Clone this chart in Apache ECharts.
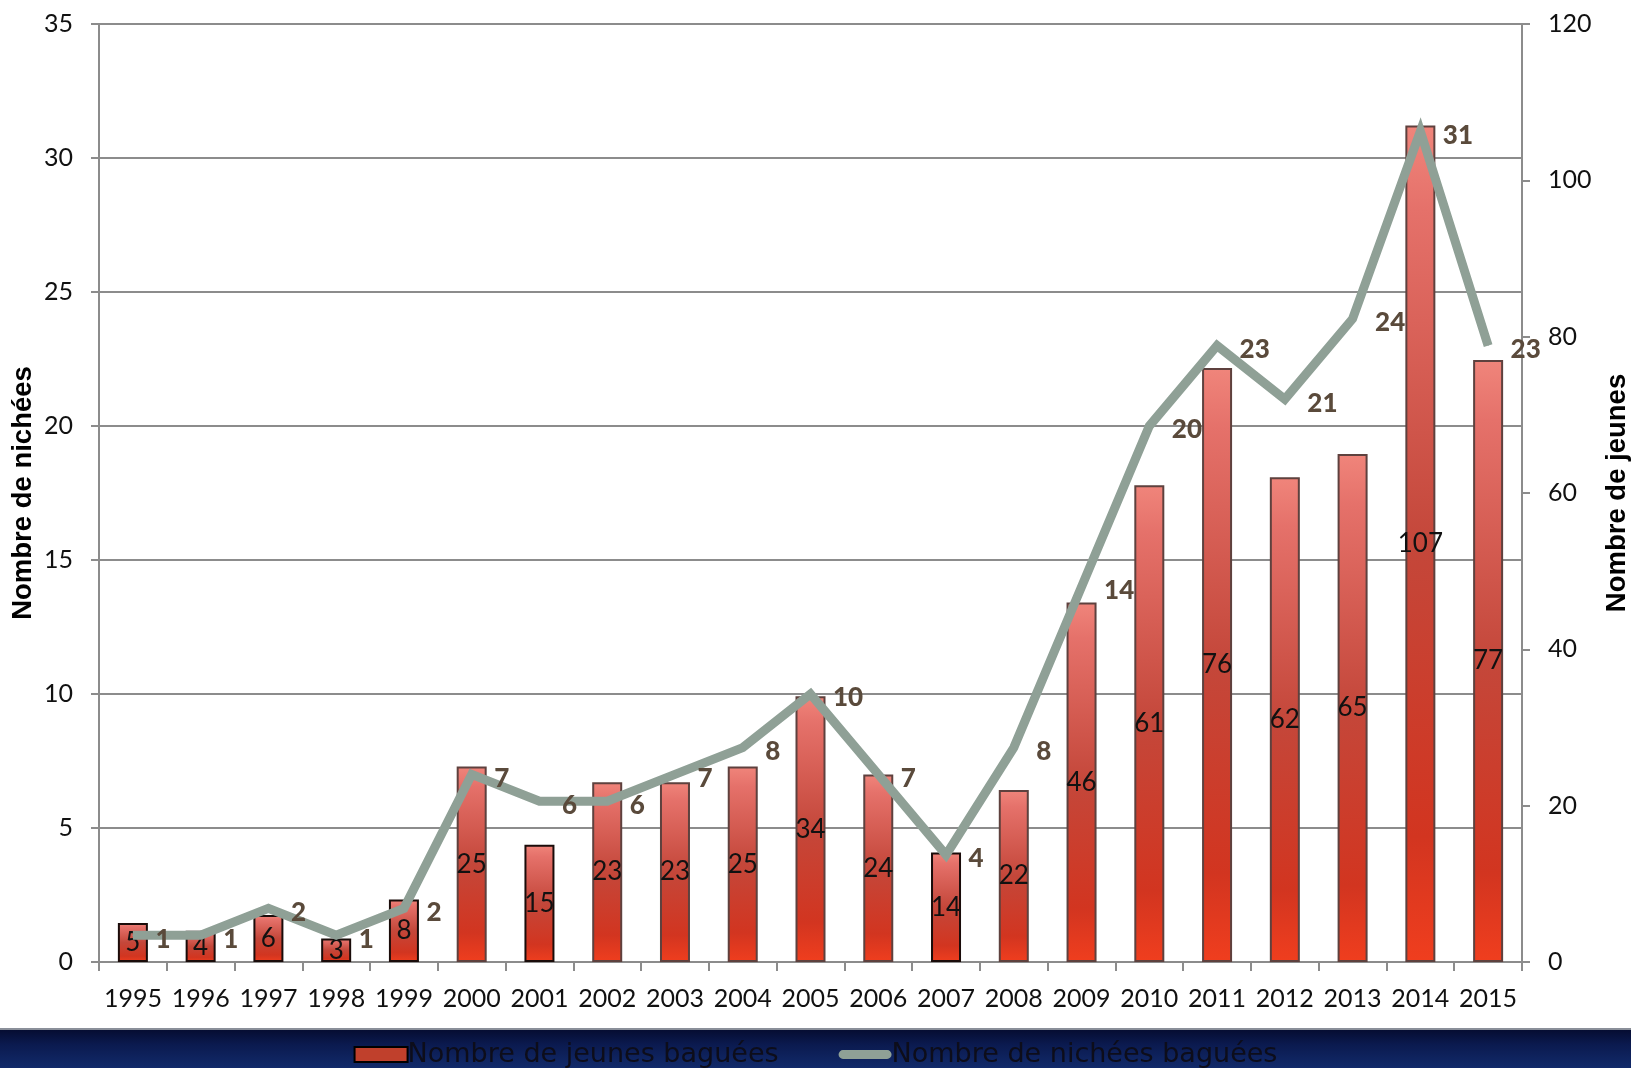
<!DOCTYPE html>
<html>
<head>
<meta charset="utf-8">
<script src="https://cdn.jsdelivr.net/npm/echarts@6/dist/echarts.min.js"></script>
<style>
html,body{margin:0;padding:0;background:#fff;}
#c{width:1631px;height:1068px;}
</style>
</head>
<body>
<div id="c"></div>
<script>
// ---- data ----
const years = ['1995','1996','1997','1998','1999','2000','2001','2002','2003','2004','2005','2006','2007','2008','2009','2010','2011','2012','2013','2014','2015'];
const jeunes = [5,4,6,3,8,25,15,23,23,25,34,24,14,22,46,61,76,62,65,107,77];
const nichees = [1,1,2,1,2,7,6,6,7,8,10,7,4,8,14,20,23,21,24,31,23];
const seriesNames = ['Nombre de jeunes baguées', 'Nombre de nichées baguées'];
const axisNames = ['Nombre de nichées', 'Nombre de jeunes'];

const FONT = 'Lato';
const GRID_COLOR = '#8c8c8c';

const barGradient = new echarts.graphic.LinearGradient(0, 0, 0, 1, [
  {offset: 0, color: '#f0857b'},
  {offset: 0.1, color: '#e5716a'},
  {offset: 0.5, color: '#c4473a'},
  {offset: 0.85, color: '#d23520'},
  {offset: 1, color: '#f03e1e'}
]);

const barData = jeunes.map(v => ({
  value: v,
  itemStyle: {borderColor: v <= 15 ? '#1a0c0a' : '#5e413e'}
}));

const chart = echarts.init(document.getElementById('c'), null, {renderer: 'canvas'});
chart.setOption({
  backgroundColor: '#ffffff',
  animation: false,
  graphic: [
    {
      type: 'rect', z: -10, silent: true,
      shape: {x: 0, y: 1029, width: 1631, height: 39},
      style: {
        fill: new echarts.graphic.LinearGradient(0, 0, 0, 1, [
          {offset: 0, color: '#050c30'},
          {offset: 0.4, color: '#0b1a4f'},
          {offset: 1, color: '#112a6a'}
        ])
      }
    },
    {
      type: 'rect', z: -9, silent: true,
      shape: {x: 0, y: 1028, width: 1631, height: 2},
      style: {fill: '#8a8f99'}
    }
  ],
  grid: {left: 99, right: 109, top: 24, bottom: 106, containLabel: false, outerBoundsMode: 'none'},
  legend: {
    top: 1041,
    left: 'center',
    padding: 0,
    itemWidth: 53,
    itemHeight: 15,
    itemGap: 60,
    textStyle: {fontFamily: 'DejaVu Sans', fontSize: 27, color: '#0d0d1a', padding: [0,0,0,-5]},
    data: [
      {name: seriesNames[0], icon: 'rect', itemStyle: {color: '#c0402c', borderColor: '#000', borderWidth: 2}},
      {name: seriesNames[1], icon: 'path://M5,0 H55 A5,5 0 0 1 55,10 H5 A5,5 0 0 1 5,0 Z', itemStyle: {color: '#8fa096', borderWidth: 0}}
    ]
  },
  xAxis: {
    type: 'category',
    data: years,
    boundaryGap: true,
    axisLine: {show: true, lineStyle: {color: GRID_COLOR, width: 2}},
    axisTick: {show: true, interval: 0, length: 9, lineStyle: {color: GRID_COLOR, width: 2}},
    axisLabel: {interval: 0, margin: 24, fontFamily: FONT, fontSize: 25, color: '#111'}
  },
  yAxis: [
    {
      type: 'value', min: 0, max: 35, interval: 5, position: 'left',
      name: axisNames[0], nameLocation: 'middle', nameRotate: 90, nameGap: 62, nameMoveOverlap: false,
      nameTextStyle: {fontFamily: 'Liberation Sans', fontWeight: 'bold', fontSize: 27.5, color: '#000'},
      axisLine: {show: true, lineStyle: {color: GRID_COLOR, width: 2}},
      axisTick: {show: true, length: 8, lineStyle: {color: GRID_COLOR, width: 2}},
      axisLabel: {margin: 26, fontFamily: FONT, fontSize: 25, color: '#111'},
      splitLine: {show: true, lineStyle: {color: GRID_COLOR, width: 2}}
    },
    {
      type: 'value', min: 0, max: 120, interval: 20, position: 'right',
      name: axisNames[1], nameLocation: 'middle', nameRotate: 90, nameGap: 81, nameMoveOverlap: false,
      nameTextStyle: {fontFamily: 'Liberation Sans', fontWeight: 'bold', fontSize: 27.5, color: '#000'},
      axisLine: {show: true, lineStyle: {color: GRID_COLOR, width: 2}},
      axisTick: {show: true, length: 8, lineStyle: {color: GRID_COLOR, width: 2}},
      axisLabel: {margin: 26, fontFamily: FONT, fontSize: 25, color: '#111'},
      splitLine: {show: false}
    }
  ],
  series: [
    {
      name: seriesNames[0],
      type: 'bar',
      yAxisIndex: 1,
      barWidth: 30,
      data: barData,
      itemStyle: {color: barGradient, borderWidth: 2, borderColor: '#5e413e'},
      label: {show: true, position: 'inside', fontFamily: FONT, fontSize: 26, color: '#111'},
      z: 2
    },
    {
      name: seriesNames[1],
      type: 'line',
      yAxisIndex: 0,
      data: nichees,
      symbol: 'circle',
      symbolSize: 1,
      lineStyle: {color: '#8fa096', width: 9, join: 'miter'},
      itemStyle: {color: '#8fa096'},
      label: {show: true, position: 'right', distance: 22, offset: [0, 4], fontFamily: FONT, fontWeight: 900, fontSize: 26, color: '#5a4a3b'},
      z: 3
    }
  ]
});
</script>
</body>
</html>
